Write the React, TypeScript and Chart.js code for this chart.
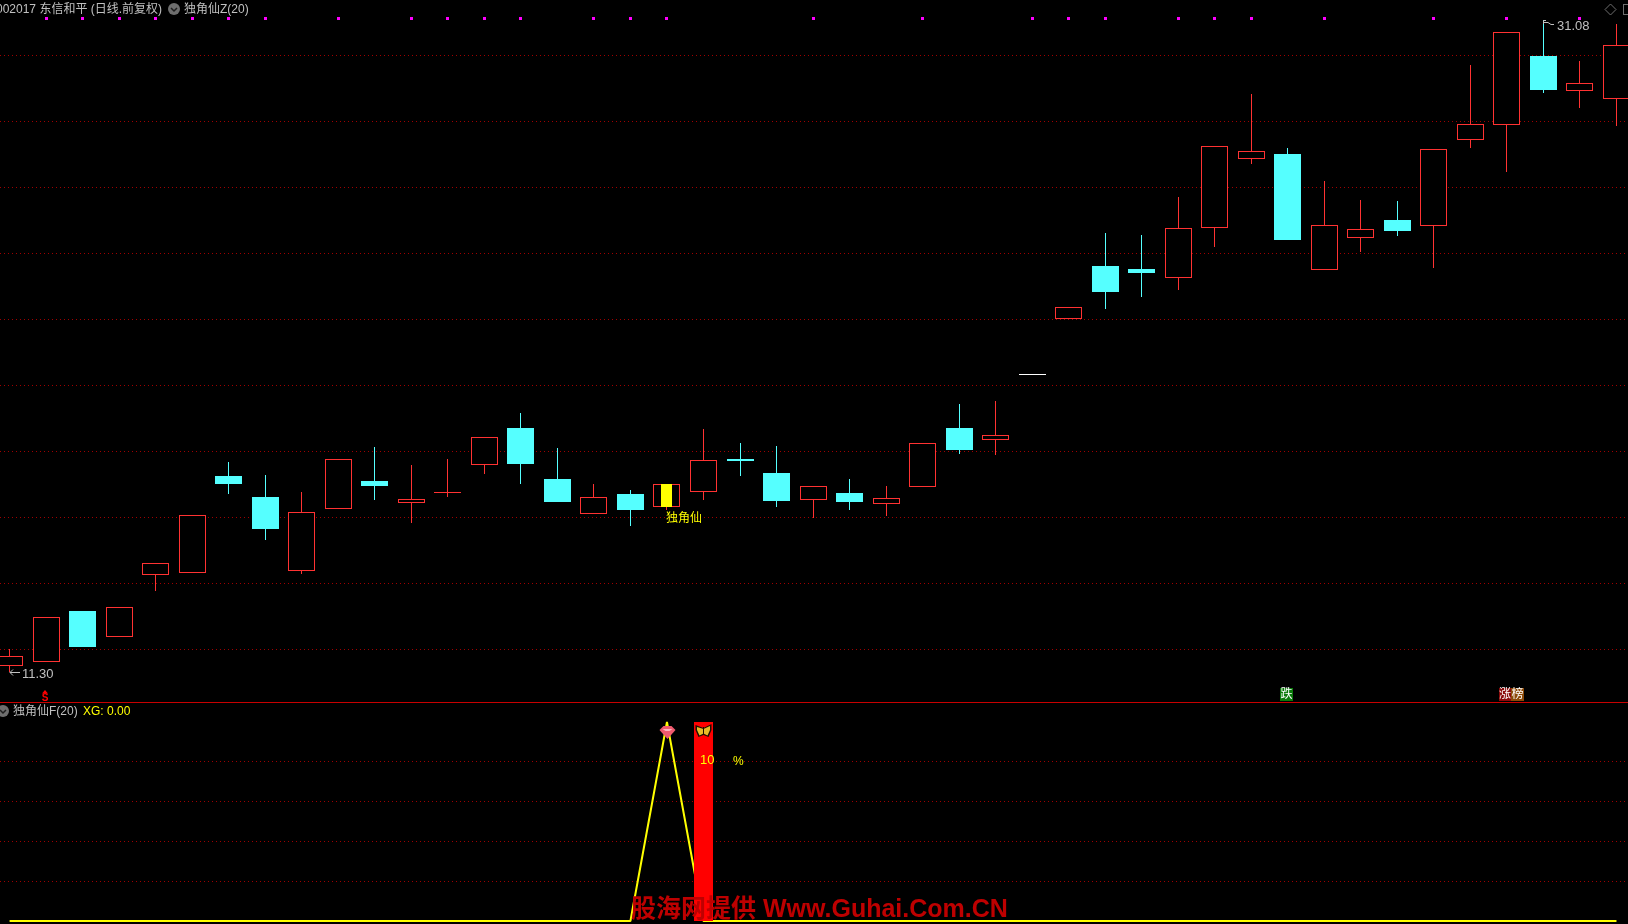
import React, { useEffect, useRef } from "react";
import { Chart, registerables } from "chart.js";

Chart.register(...registerables);

// --- data ---
const opens = [11.51, 11.61, 13.16, 12.39, 14.26, 14.33, 17.26, 16.62, 14.39, 16.27, 17.11, 16.45, 16.76, 17.60, 18.71, 17.17, 16.11, 16.71, 16.33, 16.78, 17.77, 17.35, 16.54, 16.74, 16.42, 16.92, 18.71, 18.36, 20.34, 22.03, 23.62, 23.53, 23.27, 24.78, 26.88, 27.02, 23.51, 24.48, 25.02, 24.84, 27.45, 27.91, 29.99, 28.94, 28.69];
const closes = [11.79, 12.97, 12.07, 13.28, 14.61, 16.07, 17.01, 15.65, 16.16, 17.76, 16.95, 16.55, 16.76, 18.43, 17.62, 16.47, 16.61, 16.23, 17.00, 17.73, 17.71, 16.50, 16.94, 16.47, 16.58, 18.25, 18.05, 18.49, 20.34, 22.37, 22.83, 23.41, 24.77, 27.25, 27.10, 24.41, 24.86, 24.74, 24.68, 27.16, 27.92, 30.71, 28.96, 29.16, 30.31];
const highs = [12.00, 12.97, 13.16, 13.28, 14.61, 16.07, 17.68, 17.29, 16.77, 17.76, 18.14, 17.59, 17.77, 18.43, 19.17, 18.11, 17.01, 16.83, 17.00, 18.68, 18.26, 18.17, 16.94, 17.17, 16.95, 18.25, 19.44, 19.53, 20.34, 22.37, 24.62, 24.56, 25.71, 27.25, 28.84, 27.20, 26.20, 25.62, 25.59, 27.16, 29.72, 30.71, 31.08, 29.84, 30.96];
const lows = [11.30, 11.61, 12.07, 12.39, 13.78, 14.33, 16.71, 15.32, 14.29, 16.27, 16.53, 15.83, 16.63, 17.32, 17.01, 16.47, 16.11, 15.74, 16.23, 16.53, 17.26, 16.32, 15.99, 16.23, 16.04, 16.92, 17.92, 17.89, 20.34, 22.03, 22.32, 22.68, 22.90, 24.21, 26.71, 24.41, 23.51, 24.05, 24.53, 23.57, 27.20, 26.47, 28.88, 28.41, 27.87];
const xgValues = [0, 0, 0, 0, 0, 0, 0, 0, 0, 0, 0, 0, 0, 0, 0, 0, 0, 0, 100, 0, 0, 0, 0, 0, 0, 0, 0, 0, 0, 0, 0, 0, 0, 0, 0, 0, 0, 0, 0, 0, 0, 0, 0, 0, 0];
const flagIndexes = [1, 2, 3, 4, 5, 6, 7, 9, 11, 12, 13, 14, 16, 17, 18, 22, 25, 28, 29, 30, 32, 33, 34, 36, 39, 41, 43];
const signalIndex = 18;
const stickIndex = 19;
const stickValue = 100;
const priceTicks = [12, 14, 16, 18, 20, 22, 24, 26, 28, 30];
const xgTicks = [20, 40, 60, 80];
const lowestPrice = 11.30;
const highestPrice = 31.08;
const flagPrice = 31.14;

const W = 1628;
const H = 924;
const UP = "#FF3232";
const DOWN = "#55FFFF";
const GREY = "#C0C0C0";
const YELLOW = "#FFFF00";
const CJK = '"Liberation Sans", "Noto Sans CJK SC"';

const x0 = 9.6;
const step = 36.52;
const pxPerPrice = 1 / 0.030314;
const priceTop = 31.686;
const xgZeroPx = 921;
const pxPerXg = 1.99;
const paneLine = 702;

const candleColor = (i: number) => {
  if (closes[i] > opens[i]) return UP;
  if (closes[i] < opens[i]) return DOWN;
  return highs[i] === lows[i] ? "#FFFFFF" : UP;
};
const bodyFill = (i: number) => {
  const c = candleColor(i);
  return c === UP ? "#000000" : c;
};

const snapOdd = (v: number) => Math.floor(v) + 0.5;

const snapPlugin = {
  id: "snap",
  beforeDatasetsDraw(chart: any) {
    chart.data.datasets.forEach((ds: any, di: number) => {
      const meta = chart.getDatasetMeta(di);
      if (ds.type === "bar") {
        meta.data.forEach((el: any) => {
          const odd = Math.round(el.width) % 2 === 1;
          el.x = odd ? snapOdd(el.x) : Math.round(el.x);
          el.y = Math.round(el.y);
          el.base = Math.round(el.base);
          if (el.y === el.base) el.base = el.y + 1;
        });
      } else if (ds.snapPoints) {
        meta.data.forEach((el: any) => {
          el.x = snapOdd(el.x);
          el.y = snapOdd(el.y);
        });
      }
    });
  },
};

function label(ctx: CanvasRenderingContext2D, s: string, x: number, y: number, color: string, font: string, align: CanvasTextAlign = "left") {
  ctx.font = font;
  ctx.fillStyle = color;
  ctx.textAlign = align;
  ctx.textBaseline = "middle";
  ctx.fillText(s, x, y);
}

function collapseIcon(ctx: CanvasRenderingContext2D, x: number, y: number) {
  ctx.fillStyle = "#6E6E6E";
  ctx.beginPath();
  ctx.arc(x, y, 6, 0, Math.PI * 2);
  ctx.fill();
  ctx.strokeStyle = "#1E1E1E";
  ctx.lineWidth = 1.5;
  ctx.beginPath();
  ctx.moveTo(x - 3, y - 1);
  ctx.lineTo(x, y + 2);
  ctx.lineTo(x + 3, y - 1);
  ctx.stroke();
}

function gem(ctx: CanvasRenderingContext2D, x: number, y: number) {
  ctx.fillStyle = "#F05A6E";
  ctx.beginPath();
  ctx.moveTo(x - 8, y - 2);
  ctx.lineTo(x - 4, y - 6);
  ctx.lineTo(x + 4, y - 6);
  ctx.lineTo(x + 8, y - 2);
  ctx.lineTo(x, y + 7);
  ctx.closePath();
  ctx.fill();
  ctx.fillStyle = "#FFB4BE";
  ctx.beginPath();
  ctx.moveTo(x - 5, y - 3);
  ctx.lineTo(x + 5, y - 3);
  ctx.lineTo(x + 2, y - 1);
  ctx.lineTo(x - 2, y - 1);
  ctx.closePath();
  ctx.fill();
}

function butterfly(ctx: CanvasRenderingContext2D, x: number, y: number) {
  ctx.fillStyle = "#1A1000";
  ctx.beginPath();
  ctx.moveTo(x, y - 3);
  ctx.lineTo(x + 8, y - 7);
  ctx.lineTo(x + 8, y - 1);
  ctx.lineTo(x + 5, y + 6);
  ctx.lineTo(x, y + 4);
  ctx.lineTo(x - 5, y + 6);
  ctx.lineTo(x - 8, y - 1);
  ctx.lineTo(x - 8, y - 6);
  ctx.closePath();
  ctx.fill();
  ctx.fillStyle = "#E8BC28";
  ctx.beginPath();
  ctx.moveTo(x, y - 2);
  ctx.lineTo(x + 6.5, y - 5);
  ctx.lineTo(x + 6.5, y - 1);
  ctx.lineTo(x + 4, y + 4.5);
  ctx.lineTo(x, y + 2.5);
  ctx.lineTo(x - 4, y + 4.5);
  ctx.lineTo(x - 6.5, y - 1);
  ctx.lineTo(x - 6.5, y - 4);
  ctx.closePath();
  ctx.fill();
  ctx.fillStyle = "#1A1000";
  ctx.fillRect(x - 0.5, y - 4, 1, 8);
}

const overlayPlugin = {
  id: "overlay",
  afterDraw(chart: any) {
    const ctx: CanvasRenderingContext2D = chart.ctx;
    const xs = chart.scales.x;
    const py = chart.scales.y;
    const ys = chart.scales.yXg;
    ctx.save();

    // pane separator
    ctx.fillStyle = "#C80000";
    ctx.fillRect(0, paneLine, W, 1);

    // headers
    const small = `12px ${CJK}`;
    label(ctx, "002017 东信和平 (日线.前复权)", -4, 10, GREY, small);
    collapseIcon(ctx, 174, 9);
    label(ctx, "独角仙Z(20)", 184, 10, GREY, small);
    collapseIcon(ctx, 3, 711);
    label(ctx, "独角仙F(20)", 13, 712, GREY, small);
    label(ctx, "XG: 0.00", 83, 712, YELLOW, small);

    // top-right tools
    ctx.strokeStyle = "#6E6E6E";
    ctx.lineWidth = 1;
    ctx.beginPath();
    ctx.moveTo(1610.5, 4);
    ctx.lineTo(1616, 9.5);
    ctx.lineTo(1610.5, 15);
    ctx.lineTo(1605, 9.5);
    ctx.closePath();
    ctx.stroke();
    ctx.strokeRect(1623.5, 4.5, 8, 10);

    // extreme-price marks
    const lowX = Math.floor(xs.getPixelForValue(0));
    const lowY = Math.round(py.getPixelForValue(lowestPrice));
    ctx.strokeStyle = GREY;
    ctx.beginPath();
    ctx.moveTo(lowX + 11, lowY + 0.5);
    ctx.lineTo(lowX + 1, lowY + 0.5);
    ctx.moveTo(lowX + 4, lowY - 2.5);
    ctx.lineTo(lowX + 1, lowY + 0.5);
    ctx.lineTo(lowX + 4, lowY + 3.5);
    ctx.stroke();
    label(ctx, lowestPrice.toFixed(2), lowX + 13, lowY + 2, GREY, `13px ${CJK}`);

    const hiX = Math.floor(xs.getPixelForValue(42));
    const hiY = Math.round(py.getPixelForValue(highestPrice));
    ctx.beginPath();
    ctx.moveTo(hiX + 0.5, hiY + 4);
    ctx.lineTo(hiX + 0.5, hiY + 0.5);
    ctx.lineTo(hiX + 3, hiY + 0.5);
    ctx.moveTo(hiX + 1, hiY + 2.5);
    ctx.lineTo(hiX + 5, hiY + 2.5);
    ctx.lineTo(hiX + 8, hiY + 4.5);
    ctx.lineTo(hiX + 11, hiY + 4.5);
    ctx.stroke();
    label(ctx, highestPrice.toFixed(2), hiX + 14, hiY + 6, GREY, `13px ${CJK}`);

    // signal text
    label(ctx, "独角仙", 666, 519, YELLOW, small);

    // S marker
    ctx.fillStyle = "#FF0000";
    ctx.beginPath();
    ctx.moveTo(45, 690);
    ctx.lineTo(48, 693.5);
    ctx.lineTo(42, 693.5);
    ctx.closePath();
    ctx.fill();
    label(ctx, "S", 45, 698, "#FF0000", `bold 10px ${CJK}`, "center");

    // badges
    ctx.fillStyle = "#0A7A0A";
    ctx.fillRect(1280, 688, 13, 13);
    label(ctx, "跌", 1286.5, 695, "#FFFFFF", small, "center");
    ctx.fillStyle = "#8A0A0A";
    ctx.fillRect(1499, 688, 12, 13);
    label(ctx, "涨", 1505, 695, "#FFFFFF", small, "center");
    ctx.fillStyle = "#8C4A08";
    ctx.fillRect(1511, 688, 13, 13);
    label(ctx, "榜", 1517.5, 695, "#FFFFFF", small, "center");

    // lower-pane icons and text
    gem(ctx, Math.round(xs.getPixelForValue(signalIndex)) + 0.5, Math.round(ys.getPixelForValue(xgValues[signalIndex])) + 10);
    butterfly(ctx, Math.round(xs.getPixelForValue(stickIndex)) + 0.5, Math.round(ys.getPixelForValue(stickValue)) + 9);
    label(ctx, "10", 700, 760, YELLOW, `13px ${CJK}`);
    label(ctx, "%", 733, 762, YELLOW, `12px ${CJK}`);

    // watermark
    label(ctx, "股海网提供 Www.Guhai.Com.CN", 631, 910, "#BE0000", `bold 25px ${CJK}`);
    ctx.restore();
  },
};

export default function App() {
  const ref = useRef<HTMLCanvasElement | null>(null);

  useEffect(() => {
    document.body.style.margin = "0";
    document.body.style.background = "#000";
    const idx = opens.map((_, i) => i);
    const barBase = { type: "bar", grouped: false, borderSkipped: false, inflateAmount: 0 };
    const chart = new Chart(ref.current as HTMLCanvasElement, {
      type: "bar",
      data: {
        datasets: [
          {
            ...barBase,
            label: "signal",
            yAxisID: "y",
            barThickness: 11,
            borderWidth: 0,
            backgroundColor: YELLOW,
            data: [{ x: signalIndex, y: [closes[signalIndex], opens[signalIndex]] }],
          },
          {
            ...barBase,
            label: "XG stick",
            yAxisID: "yXg",
            barThickness: 19,
            borderWidth: 0,
            backgroundColor: "#FF0000",
            data: [{ x: stickIndex, y: [0, stickValue] }],
          },
          {
            ...barBase,
            label: "body",
            yAxisID: "y",
            barThickness: 27,
            borderWidth: 1,
            backgroundColor: idx.map(bodyFill),
            borderColor: idx.map(candleColor),
            data: idx.map((i) => ({ x: i, y: [opens[i], closes[i]] })),
          },
          {
            ...barBase,
            label: "wick",
            yAxisID: "y",
            barThickness: 1,
            borderWidth: 0,
            backgroundColor: idx.map(candleColor),
            data: idx.map((i) => ({ x: i, y: [lows[i], highs[i]] })),
          },
          {
            type: "line",
            label: "XG",
            yAxisID: "yXg",
            borderColor: YELLOW,
            borderWidth: 2,
            borderJoinStyle: "bevel",
            pointRadius: 0,
            tension: 0,
            data: idx.map((i) => ({ x: i, y: xgValues[i] })),
          },
          {
            type: "line",
            label: "flags",
            yAxisID: "y",
            snapPoints: true,
            showLine: false,
            pointStyle: "rect",
            pointRadius: 2.13,
            pointBorderWidth: 0,
            pointBackgroundColor: "#FF00FF",
            data: flagIndexes.map((i) => ({ x: i, y: flagPrice })),
          },
        ] as any,
      },
      options: {
        animation: false,
        responsive: false,
        devicePixelRatio: 1,
        layout: { padding: 0, autoPadding: false },
        plugins: { legend: { display: false }, tooltip: { enabled: false } },
        events: [],
        scales: {
          x: {
            type: "linear",
            display: false,
            offset: false,
            bounds: "data",
            min: -x0 / step,
            max: (W - x0) / step,
            grid: { display: false },
          },
          y: {
            type: "linear",
            position: "left",
            bounds: "data",
            min: priceTop - H / pxPerPrice,
            max: priceTop,
            afterBuildTicks: (s: any) => {
              s.ticks = priceTicks.map((value) => ({ value }));
            },
            ticks: { display: false },
            grid: { color: "#A00000", drawTicks: false, lineWidth: 1 },
            border: { display: false, dash: [1, 3] },
          },
          yXg: {
            type: "linear",
            position: "left",
            bounds: "data",
            min: (xgZeroPx - H) / pxPerXg,
            max: xgZeroPx / pxPerXg,
            afterBuildTicks: (s: any) => {
              s.ticks = xgTicks.map((value) => ({ value }));
            },
            ticks: { display: false },
            grid: { color: "#A00000", drawTicks: false, lineWidth: 1 },
            border: { display: false, dash: [1, 3] },
          },
        },
      } as any,
      plugins: [snapPlugin, overlayPlugin] as any,
    });
    return () => chart.destroy();
  }, []);

  return (
    <canvas
      ref={ref}
      width={W}
      height={H}
      style={{ position: "fixed", left: 0, top: 0, width: W, height: H, background: "#000", display: "block" }}
    />
  );
}
